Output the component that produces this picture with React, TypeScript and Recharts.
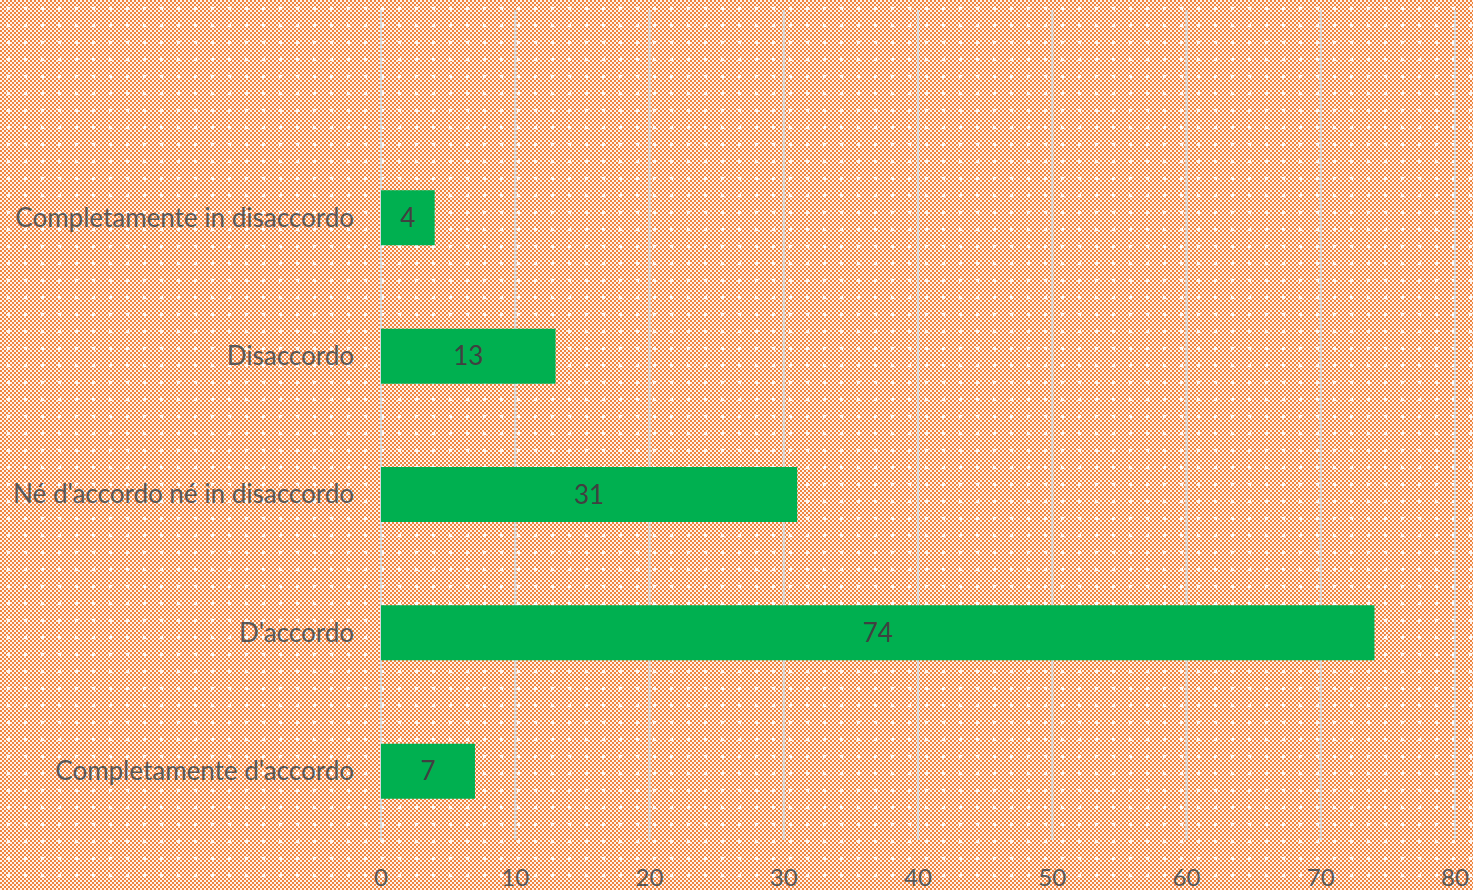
import React from "react";
import { BarChart, Bar, XAxis, YAxis, CartesianGrid, LabelList } from "recharts";

const categories = [
  "",
  "Completamente in disaccordo",
  "Disaccordo",
  "Né d'accordo né in disaccordo",
  "D'accordo",
  "Completamente d'accordo",
];
const values: (number | null)[] = [null, 4, 13, 31, 74, 7];
const xTicks = [0, 10, 20, 30, 40, 50, 60, 70, 80];

const data = categories.map((c, i) => ({ name: c, value: values[i] }));

const FONT = "Lato, 'Open Sans', sans-serif";

export default function App() {
  return (
    <div
      style={{
        position: "absolute",
        left: 0,
        top: 0,
        width: 1473,
        height: 890,
        backgroundColor: "#F6B68C",
        backgroundImage:
          "radial-gradient(circle, rgba(255,255,255,0.9) 0 1.5px, transparent 2.2px), repeating-conic-gradient(#EE8440 0 25%, #FFF3EA 0 50%)",
        backgroundSize: "17px 17px, 4px 4px",
        backgroundPosition: "0 0, 0 0",
        overflow: "hidden",
      }}
    >
      <BarChart
        width={1473}
        height={890}
        data={data}
        layout="vertical"
        margin={{ top: 10, right: 18, bottom: 0, left: 0 }}
      >
        <CartesianGrid horizontal={false} vertical={true} stroke="#D9D9D9" strokeWidth={2} />
        <XAxis
          type="number"
          domain={[0, 80]}
          ticks={xTicks}
          axisLine={false}
          tickLine={false}
          tickSize={0}
          tickMargin={29}
          height={50}
          interval={0}
          tick={{ fill: "#595959", fontSize: 24, fontFamily: FONT }}
        />
        <YAxis
          type="category"
          dataKey="name"
          width={381}
          axisLine={false}
          tickLine={false}
          tickSize={0}
          tickMargin={27}
          interval={0}
          tick={{ fill: "#595959", fontSize: 26, fontFamily: FONT }}
        />
        <Bar dataKey="value" fill="#00B050" barSize={55} isAnimationActive={false}>
          <LabelList
            dataKey="value"
            position="center"
            fill="#404040"
            style={{ fontSize: 26, fontFamily: FONT }}
          />
        </Bar>
      </BarChart>
    </div>
  );
}
